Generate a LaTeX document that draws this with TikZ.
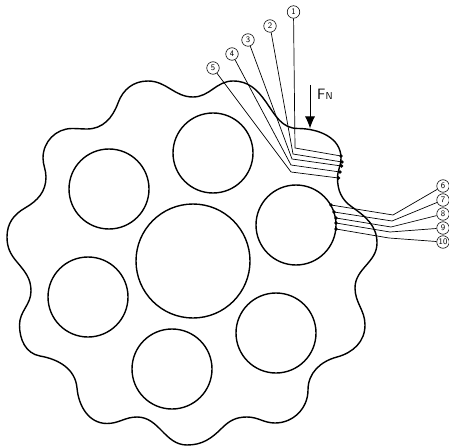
\documentclass[tikz,border=0pt]{standalone}
\usepackage{tikz}
\usetikzlibrary{arrows.meta}

\tikzset{
  outline/.style={line width=1.4pt,line join=round},
  hole/.style={circle,draw,line width=1.4pt,inner sep=0pt},
  callout/.style={circle,draw,line width=0.6pt,inner sep=0pt,minimum size=12.5pt,font=\fontsize{8.5}{8.5}\sffamily},
  leader/.style={line width=0.7pt},
  contact/.style={circle,fill,inner sep=0pt,minimum size=3.8pt}
}

\begin{document}
\begin{tikzpicture}[x=1pt,y=-1pt]
\useasboundingbox (0,0) rectangle (449,446);
\draw [outline] (148,81)
  to[out=0,in=180] (193,97)
  to[out=0,in=180] (233,81)
  to[out=0,in=125] (266,102)
  to[out=-55,in=180] (298,128.5)
  to[out=0,in=90] (341,158)
  to[out=-90,in=90] (337.5,178)
  to[out=-90,in=145] (352,207)
  to[out=-35,in=90] (377,243)
  to[out=-90,in=90] (355,288)
  to[out=-90,in=90] (365,325)
  to[out=-90,in=15] (337,357)
  to[out=195,in=90] (308,390)
  to[out=-90,in=0] (275,423)
  to[out=180,in=0] (247,417)
  to[out=180,in=45] (222,428)
  to[out=225,in=0] (187,445)
  to[out=180,in=0] (137,417)
  to[out=180,in=0] (107,423.5)
  to[out=180,in=-85] (77,388)
  to[out=95,in=-10] (40,356)
  to[out=170,in=-90] (19.5,325)
  to[out=90,in=-90] (31,291)
  to[out=90,in=-50] (17,262)
  to[out=130,in=-90] (7,237)
  to[out=90,in=210] (25,208)
  to[out=30,in=-90] (46,177)
  to[out=90,in=-90] (43,158)
  to[out=90,in=180] (72,128.5)
  to[out=0,in=180] (87,129)
  to[out=0,in=-110] (118,103)
  to[out=70,in=180] (148,81)
  -- cycle;
% holes
\node [hole,minimum size=114pt] (big) at (193,261) {};
\node [hole,minimum size=80pt] (h1) at (109,189) {};
\node [hole,minimum size=80pt] (h2) at (213,153) {};
\node [hole,minimum size=80pt] (h3) at (296,225) {};
\node [hole,minimum size=80pt] (h4) at (88,297) {};
\node [hole,minimum size=80pt] (h5) at (172,369) {};
\node [hole,minimum size=80pt] (h6) at (276,333) {};
% force
\coordinate (ftop) at (310,85);
\coordinate (ftip) at (310,128.5);
\draw [-{Latex[length=12pt,width=10pt]},line width=1pt] (ftop) -- (ftip);
\node [font=\fontsize{15}{15}\sffamily,anchor=base west,inner sep=0pt] (fn) at (317,100) {F{\fontsize{10}{10}\selectfont N}};
% callouts on the tooth
\foreach \i/\cx/\cy/\ex/\ey/\px/\py in {
  1/293.5/12/295/148/341/156,
  2/270/26/293/154/342/162,
  3/248/40/292/159/341.5/166,
  4/232/54/291/165/340/172,
  5/213/68/291/172/338.5/178}{
  \node [callout] (c\i) at (\cx,\cy) {\i};
  \coordinate (e\i) at (\ex,\ey);
  \node [contact] (p\i) at (\px,\py) {};
  \draw [leader] (c\i) -- (e\i) -- (p\i.center);
}
% callouts on the hole
\foreach \i/\cx/\cy/\ex/\ey/\px/\py in {
  6/443/186/393/215/331/205,
  7/443/200/392/221/334/212,
  8/443/214/391/227/336/218,
  9/443/228/390/232/336/223,
  10/443/242/389/238/336/229}{
  \node [callout] (c\i) at (\cx,\cy) {\i};
  \coordinate (e\i) at (\ex,\ey);
  \node [contact] (p\i) at (\px,\py) {};
  \draw [leader] (c\i) -- (e\i) -- (p\i.center);
}
\end{tikzpicture}
\end{document}
